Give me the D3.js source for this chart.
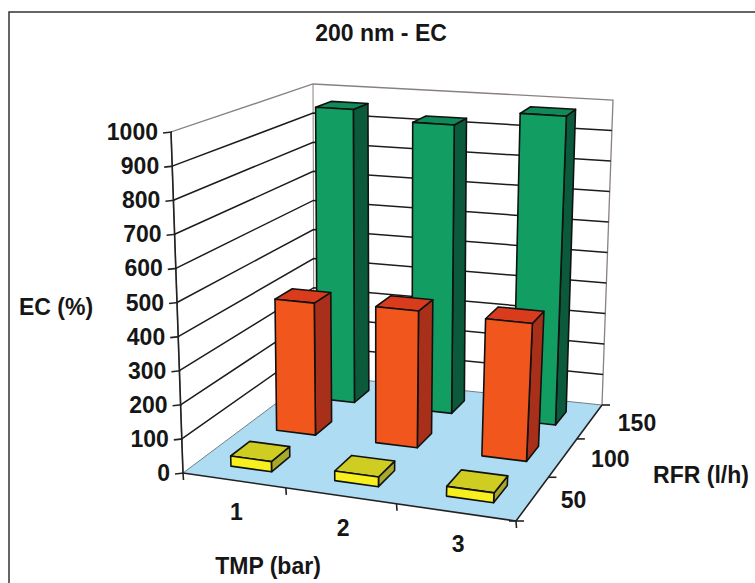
<!DOCTYPE html>
<html>
<head>
<meta charset="utf-8">
<style>
  html, body { margin: 0; padding: 0; background: #fff; }
  svg { display: block; }
  text { font-family: "Liberation Sans", Arial, sans-serif; font-weight: bold; fill: #161616; }
</style>
<script src="https://cdn.jsdelivr.net/npm/d3@7/dist/d3.min.js"></script>
</head>
<body>
<svg id="chart" width="755" height="583"></svg>
<script>
// Series, one per flow rate, by transmembrane pressure
const tmpLabels = ["1", "2", "3"];
const rfrLabels = ["50", "100", "150"];
const ec50 = [30, 28, 28];
const ec100 = [410, 418, 415];
const ec150 = [960, 930, 980];
const valueTicks = [0, 100, 200, 300, 400, 500, 600, 700, 800, 900, 1000];

const palette = {
  50: { front: "#f7f01e", side: "#a8a82a", top: "#cfcc22" },
  100: { front: "#f1561c", side: "#a8301a", top: "#d93c1c" },
  150: { front: "#129e62", side: "#0b5a3c", top: "#0f8a58" }
};

// Corners of the box as seen on the page: floor and ceiling, clockwise from front left
const floorQuad = [[183, 473], [516, 521], [602, 405], [314, 375]];
const ceilQuad = [[171, 132], [538, 163], [613, 100], [313, 84]];

// Maps the unit square onto a quadrilateral with a perspective transform
function quadMap(q) {
  const [[x0, y0], [x1, y1], [x2, y2], [x3, y3]] = q;
  const dx1 = x1 - x2, dx2 = x3 - x2, sx = x0 - x1 + x2 - x3;
  const dy1 = y1 - y2, dy2 = y3 - y2, sy = y0 - y1 + y2 - y3;
  const den = dx1 * dy2 - dx2 * dy1;
  const g = (sx * dy2 - dx2 * sy) / den, h = (dx1 * sy - sx * dy1) / den;
  const a = x1 - x0 + g * x1, b = x3 - x0 + h * x3;
  const d = y1 - y0 + g * y1, e = y3 - y0 + h * y3;
  return (u, v) => {
    const w = g * u + h * v + 1;
    return [(a * u + b * v + x0) / w, (d * u + e * v + y0) / w];
  };
}
const floorAt = quadMap(floorQuad), ceilAt = quadMap(ceilQuad);

const xBand = d3.scaleBand().domain(tmpLabels).range([0, 1]).paddingInner(0.6).paddingOuter(0.3).align(0.55);
const zBand = d3.scaleBand().domain(rfrLabels).range([0, 1]).paddingInner(0.6).paddingOuter(0.3);
const yScale = d3.scaleLinear().domain([0, 1000]).range([0, 1]);

// Projects (across, depth, value) to page coordinates
function project(u, v, val) {
  const f = floorAt(u, v), c = ceilAt(u, v), t = yScale(val);
  return [f[0] + (c[0] - f[0]) * t, f[1] + (c[1] - f[1]) * t];
}

const svg = d3.select("#chart");
const line = d3.line();

// Chart frame, open past the right and bottom edges of the page
svg.append("rect").attr("x", 9).attr("y", 12).attr("width", 760).attr("height", 600)
  .attr("fill", "#fff").attr("stroke", "#333").attr("stroke-width", 1.5);

// Side and back walls
svg.append("path").attr("d", line([project(0, 0, 0), project(0, 0, 1000), project(0, 1, 1000), project(1, 1, 1000), project(1, 1, 0)]))
  .attr("fill", "none").attr("stroke", "#8a8080").attr("stroke-width", 1.3);
svg.append("path").attr("d", line([project(0, 1, 1000), project(0, 1, 0)]))
  .attr("stroke", "#8a8080").attr("stroke-width", 1);

// Floor
svg.append("path").attr("d", line([project(0, 0, 0), project(1, 0, 0), project(1, 1, 0), project(0, 1, 0)]) + "Z")
  .attr("fill", "#aedcf3").attr("stroke", "none");

// Gridlines along both walls
const grid = svg.append("g").attr("fill", "none").attr("stroke", "#1c1c1c").attr("stroke-width", 1.5);
valueTicks.filter(t => t > 0 && t < 1000).forEach(t => {
  grid.append("path").attr("d", line([project(0, 0, t), project(0, 1, t), project(1, 1, t)]));
});
svg.append("path").attr("d", line([project(0, 1, 0), project(1, 1, 0)])).attr("stroke", "#6f7f88").attr("stroke-width", 1);
svg.append("path").attr("d", line([project(0, 0, 0), project(0, 1, 0)])).attr("stroke", "#6f7f88").attr("stroke-width", 1);

// Axis lines with outward ticks
const axes = svg.append("g").attr("fill", "none").attr("stroke", "#222").attr("stroke-width", 1.6);
axes.append("path").attr("d", line([project(0, 0, 0), project(0, 0, 1000)]));
axes.append("path").attr("d", line([project(0, 0, 0), project(1, 0, 0), project(1, 1, 0)]));
valueTicks.forEach(t => {
  const p = project(0, 0, t);
  axes.append("path").attr("d", line([[p[0] - 8, p[1] + 1], [p[0] + 1, p[1]]]));
});
d3.range(0, 4).forEach(i => {
  const p = project(i / 3, 0, 0);
  axes.append("path").attr("d", line([p, [p[0] + 0.5, p[1] + 7]]));
});
d3.range(0, 4).forEach(i => {
  const p = project(1, i / 3, 0);
  axes.append("path").attr("d", line([[p[0] - (i === 0 ? 7 : 0), p[1]], [p[0] + 8, p[1]]]));
});

// Bars, drawn from the back row forward
function drawBar(tmp, rfr, val) {
  const u0 = xBand(tmp), u1 = u0 + xBand.bandwidth();
  const v0 = zBand(rfr), v1 = v0 + zBand.bandwidth();
  const g = svg.append("g").attr("stroke", "#111").attr("stroke-width", 1.6).attr("stroke-linejoin", "round");
  const colors = palette[rfr];
  g.append("path").attr("fill", colors.side)
    .attr("d", line([project(u1, v0, 0), project(u1, v1, 0), project(u1, v1, val), project(u1, v0, val)]) + "Z");
  g.append("path").attr("fill", colors.top)
    .attr("d", line([project(u0, v0, val), project(u1, v0, val), project(u1, v1, val), project(u0, v1, val)]) + "Z");
  g.append("path").attr("fill", colors.front)
    .attr("d", line([project(u0, v0, 0), project(u1, v0, 0), project(u1, v0, val), project(u0, v0, val)]) + "Z");
}
[["150", ec150], ["100", ec100], ["50", ec50]].forEach(([rfr, values]) => {
  tmpLabels.forEach((tmp, i) => drawBar(tmp, rfr, values[i]));
});

// Labels
function label(x, y, str, anchor) {
  svg.append("text").attr("x", x).attr("y", y).attr("text-anchor", anchor || "middle")
    .attr("font-size", 23).text(str);
}
label(381, 41, "200 nm - EC");
valueTicks.forEach(t => {
  const p = project(0, 0, t);
  label(p[0] - 13, p[1] + 8, String(t), "end");
});
label(56, 315, "EC (%)");
tmpLabels.forEach((s, i) => {
  const p = project((i + 0.5) / 3, 0, 0);
  label(p[0] + 3, p[1] + 40, s);
});
rfrLabels.forEach((s, i) => {
  const p = project(1, (i + 0.5) / 3, 0);
  label(p[0] + 28, p[1] + 10, s, "start");
});
label(268, 574, "TMP (bar)");
label(701, 483, "RFR (l/h)");
</script>
</body>
</html>
